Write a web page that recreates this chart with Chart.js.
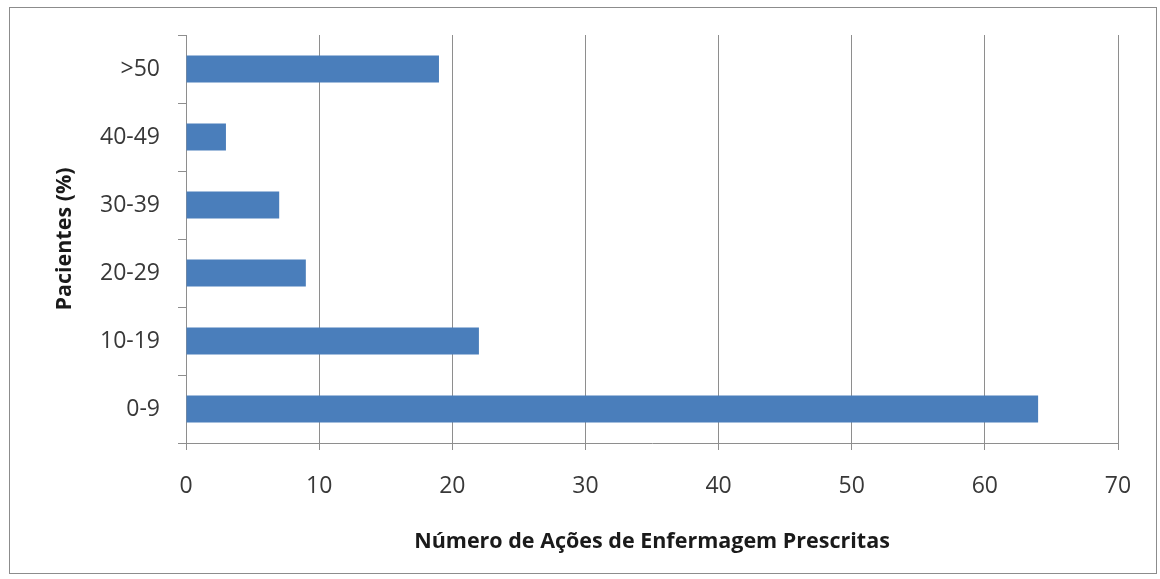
<!DOCTYPE html>
<html><head><meta charset="utf-8">
<script src="https://cdn.jsdelivr.net/npm/chart.js@4/dist/chart.umd.min.js"></script>
<style>
html,body{margin:0;padding:0;background:#fff;}
#wrap{position:relative;width:1160px;height:579px;}
#frame{position:absolute;left:9px;top:7px;width:1146px;height:565px;border:1px solid #8c8c8c;pointer-events:none;}
</style></head>
<body>
<div id="wrap"><canvas id="c" width="1160" height="579"></canvas><div id="frame"></div></div>
<script>
const categories = [">50", "40-49", "30-39", "20-29", "10-19", "0-9"];
const values = [19, 3, 7, 9, 22, 64];
const xTicks = [0, 10, 20, 30, 40, 50, 60, 70];
const xTitle = "Número de Ações de Enfermagem Prescritas";
const yTitle = "Pacientes (%)";

const textColor = "#383838";
const gridColor = "#8e8e8e";

new Chart(document.getElementById('c'), {
  type: 'bar',
  data: {
    labels: categories,
    datasets: [{
      data: values,
      backgroundColor: '#4a7ebb',
      borderColor: '#4a7ebb',
      borderWidth: 0,
      categoryPercentage: 1,
      barPercentage: 0.4
    }]
  },
  options: {
    indexAxis: 'y',
    responsive: false,
    animation: false,
    devicePixelRatio: 1,
    layout: { padding: { left: 0, top: 35, right: 42, bottom: 0 } },
    plugins: { legend: { display: false }, tooltip: { enabled: false } },
    scales: {
      x: {
        min: 0, max: 70,
        afterBuildTicks: s => { s.ticks = xTicks.map(v => ({ value: v })); },
        afterFit: s => { s.height = 136; },
        grid: { color: gridColor, lineWidth: 1, tickLength: 7, drawTicks: true },
        border: { color: gridColor, width: 1 },
        ticks: { color: textColor, font: { family: 'Open Sans', size: 23 }, padding: 23 },
        title: { display: true, text: xTitle, color: '#1a1a1a', font: { family: 'Open Sans', size: 21.5, weight: 'bold' }, padding: { top: 0, bottom: 24 } }
      },
      y: {
        afterFit: s => { s.width = 186; },
        grid: { display: true, drawOnChartArea: false, color: gridColor, tickLength: 8, offset: true },
        border: { color: gridColor, width: 1 },
        ticks: { color: textColor, font: { family: 'Open Sans', size: 23 }, padding: 18 },
        title: { display: true, text: yTitle, color: '#1a1a1a', font: { family: 'Open Sans', size: 21.5, weight: 'bold' }, padding: { top: 52, bottom: 0 } }
      }
    }
  }
});
</script>
</body></html>
